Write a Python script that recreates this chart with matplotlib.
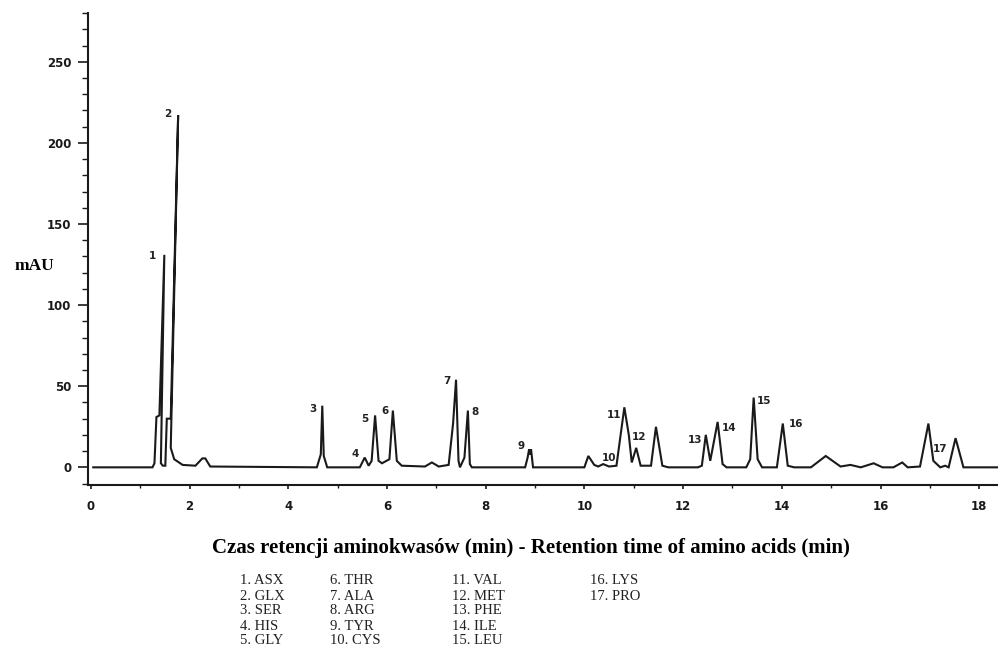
import matplotlib.pyplot as plt
from matplotlib.ticker import MultipleLocator

# chromatogram trace, vertices (time in min, signal in mAU)
trace_time = [
    0.05, 1.25, 1.29, 1.33, 1.39, 1.49, 1.42, 1.46,
    1.51, 1.54, 1.62, 1.77, 1.62, 1.69, 1.86, 2.12, 2.26, 2.32, 2.42,
    4.58, 4.63, 4.66, 4.69, 4.72, 4.75, 4.79,
    5.45, 5.55, 5.63, 5.69, 5.76, 5.83, 5.90, 6.05, 6.12, 6.20, 6.30,
    6.77, 6.91, 7.05, 7.25, 7.34, 7.40, 7.45, 7.48, 7.57, 7.64, 7.68, 7.72,
    8.80, 8.85, 8.88, 8.90, 8.92, 8.96,
    10.00, 10.08, 10.20, 10.28, 10.38, 10.50, 10.65, 10.81, 10.90, 10.96,
    11.05, 11.14, 11.35, 11.45, 11.58, 11.70,
    12.30, 12.38, 12.46, 12.55, 12.70, 12.80, 12.88,
    13.28, 13.36, 13.43, 13.51, 13.60,
    13.90, 14.02, 14.12, 14.25,
    14.59, 14.89, 15.19, 15.39, 15.60, 15.86, 16.04, 16.26, 16.44, 16.55,
    16.80, 16.97, 17.07, 17.21, 17.31, 17.38, 17.52, 17.68, 18.40,
]
trace_mau = [
    0, 0, 2.5, 31, 32, 131, 2.5, 1,
    1, 30, 30, 217, 12, 5, 1.5, 1, 5.5, 5.5, 0.5,
    0, 5, 8, 38, 7, 4, 0,
    0, 6, 1, 4, 32, 4, 2.5, 5, 35, 4, 1,
    0.5, 3, 0.5, 1.5, 27, 54, 4, 0, 6, 35, 2, 0,
    0, 6, 11, 8, 11, 0,
    0, 7, 1.5, 0.5, 2, 0.5, 1, 37, 20, 3,
    12, 1, 1, 25, 1, 0,
    0, 1, 20, 4, 28, 2, 0,
    0, 5, 43, 5, 0,
    0, 27, 1, 0,
    0, 7, 0.5, 1.5, 0, 2.5, 0, 0, 3, 0,
    0.5, 27, 4, 0, 1, 0, 18, 0, 0,
]

# peak numbers and where their labels sit on the scan
peak_numbers = ["1", "2", "3", "4", "5", "6", "7", "8", "9", "10",
                "11", "12", "13", "14", "15", "16", "17"]
peak_label_time = [1.25, 1.56, 4.50, 5.36, 5.56, 5.96, 7.22, 7.78, 8.71, 10.50,
                   10.61, 11.10, 12.24, 12.93, 13.64, 14.28, 17.21]
peak_label_mau = [130, 218, 36, 8, 30, 35, 53, 34, 13, 6,
                  32, 19, 17, 24, 41, 27, 11]

amino_acids = ["ASX", "GLX", "SER", "HIS", "GLY", "THR", "ALA", "ARG", "TYR",
               "CYS", "VAL", "MET", "PHE", "ILE", "LEU", "LYS", "PRO"]

x_ticks = [0, 2, 4, 6, 8, 10, 12, 14, 16, 18]
y_ticks = [0, 50, 100, 150, 200, 250]

fig = plt.figure(figsize=(9.98, 6.53), dpi=100)
ax = fig.add_axes([0.088, 0.257, 0.912, 0.723])

ax.plot(trace_time, trace_mau, color="#1a1a1a", lw=1.5, solid_joinstyle="miter")

for num, t, v in zip(peak_numbers, peak_label_time, peak_label_mau):
    ax.text(t, v, num, fontsize=7.5, fontweight="bold", family="DejaVu Sans",
            ha="center", va="center", color="#222222")

ax.set_xlim(-0.06, 18.38)
ax.set_ylim(-11, 280)
ax.set_xticks(x_ticks)
ax.set_yticks(y_ticks)
ax.xaxis.set_minor_locator(MultipleLocator(1))
ax.yaxis.set_minor_locator(MultipleLocator(10))
ax.tick_params(axis="both", which="major", length=7, width=1.2, direction="out",
               labelsize=8.5, colors="#1a1a1a")
ax.tick_params(axis="both", which="minor", length=4, width=1, direction="out",
               colors="#1a1a1a")
ax.tick_params(axis="x", which="major", length=3, pad=8)
ax.tick_params(axis="x", which="minor", length=2)
ax.tick_params(axis="y", which="major", pad=5)
for lab in ax.get_xticklabels() + ax.get_yticklabels():
    lab.set_fontweight("bold")
    lab.set_family("DejaVu Sans")

for side in ("top", "right"):
    ax.spines[side].set_visible(False)
for side in ("left", "bottom"):
    ax.spines[side].set_linewidth(1.5)
    ax.spines[side].set_color("#1a1a1a")

fig.text(0.015, 1 - 266 / 653, "mAU", fontsize=12.5, fontweight="bold",
         family="Liberation Serif", va="center", ha="left")

fig.text(531 / 998, 1 - 548 / 653,
         "Czas retencji aminokwasów (min) - Retention time of amino acids (min)",
         fontsize=15, fontweight="bold", family="Liberation Serif",
         ha="center", va="center")

# legend of amino acids, four columns of five
col_x = [240, 330, 452, 590]
row_y0 = 581
row_step = 15
for i, name in enumerate(amino_acids):
    col, row = divmod(i, 5)
    fig.text(col_x[col] / 998, 1 - (row_y0 + row * row_step) / 653,
             f"{i + 1}. {name}", fontsize=10.5, family="Liberation Serif",
             ha="left", va="center", color="#222222")

fig.savefig("out.png", dpi=100)
